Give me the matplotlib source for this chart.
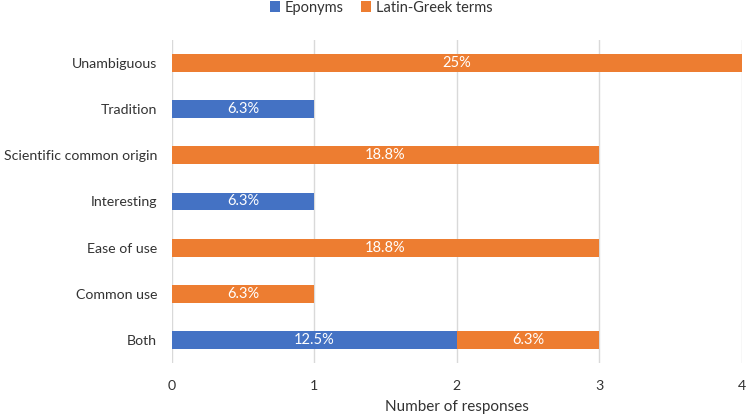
import numpy as np
import matplotlib
matplotlib.use("Agg")
import matplotlib.pyplot as plt

plt.rcParams['font.family'] = ['Lato', 'DejaVu Sans']

categories = ["Both", "Common use", "Ease of use", "Interesting",
              "Scientific common origin", "Tradition", "Unambiguous"]
eponyms = [2, 0, 0, 1, 0, 1, 0]
latin_greek = [1, 1, 3, 0, 3, 0, 4]
eponym_labels = ["12.5%", "", "", "6.3%", "", "6.3%", ""]
latin_labels = ["6.3%", "6.3%", "18.8%", "", "18.8%", "", "25%"]

BLUE = "#4472C4"
ORANGE = "#ED7D31"
TEXT = "#333333"

fig = plt.figure(figsize=(7.49, 4.19), dpi=100)
ax = fig.add_axes([0.2292, 0.1337, 0.7615, 0.7708])

y = np.arange(len(categories))
h = 0.39
b1 = ax.barh(y, eponyms, height=h, color=BLUE, label="Eponyms", zorder=3)
b2 = ax.barh(y, latin_greek, height=h, left=eponyms, color=ORANGE,
             label="Latin-Greek terms", zorder=3)
ax.bar_label(b1, labels=eponym_labels, label_type="center", color="white", fontsize=10.5)
ax.bar_label(b2, labels=latin_labels, label_type="center", color="white", fontsize=10.5)

ax.set_xlim(0, 4)
ax.set_ylim(-0.5, len(categories) - 0.5)
ax.set_xticks(range(5))
ax.set_yticks(y)
ax.set_yticklabels(categories)
ax.tick_params(axis="both", length=0, labelsize=10.2, colors=TEXT)
ax.tick_params(axis="x", pad=12)
ax.tick_params(axis="y", pad=10.5)
ax.xaxis.grid(True, color="#D9D9D9", linewidth=1, zorder=0)
for s in ax.spines.values():
    s.set_visible(False)
ax.set_xlabel("Number of responses", fontsize=11, color=TEXT, labelpad=6)

fig.legend(loc="upper center", bbox_to_anchor=(0.509, 1.03), ncol=2, frameon=False,
           fontsize=10.5, handlelength=0.7, handleheight=0.7, handletextpad=0.3,
           columnspacing=1.2, labelcolor=TEXT)

fig.savefig("out.png", dpi=100)
